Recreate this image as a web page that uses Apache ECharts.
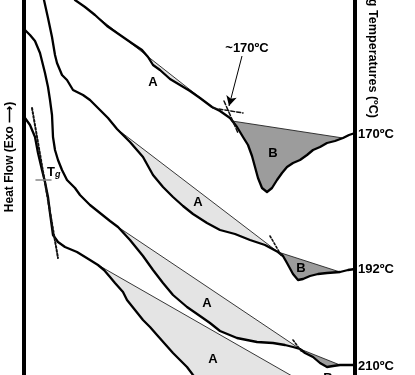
<!DOCTYPE html>
<html>
<head>
<meta charset="utf-8">
<script src="https://cdn.jsdelivr.net/npm/echarts@6/dist/echarts.min.js"></script>
<style>html,body{margin:0;padding:0;background:#fff;}#c{width:415px;height:375px;}</style>
</head>
<body>
<div id="c"></div>
<script>
// Curves: [temperature position, heat-flow position]
var curve170 = [[75,0],[85,7],[95,15],[107,26],[120,35],[133,44],[142,50],[148,57],[153,65],[160,70],[170,79],[180,85],[190,91],[200,98],[212,107],[220,111],[230,118],[237,127],[243,137],[248,145],[252,156],[255,167],[258,178],[262,188],[267,192],[272,188],[277,180],[282,173],[287,167],[293,163],[300,160],[307,155],[313,150],[320,147],[327,143],[335,141],[343,138],[349,135],[355,133]];
var curve192 = [[44,0],[48,18],[52,37],[55,55],[57,63],[62,75],[67,80],[73,90],[83,95],[90,100],[100,110],[108,118],[117,129],[130,142],[143,157],[153,175],[163,187],[173,197],[183,206],[193,214],[207,223],[220,230],[235,234],[250,240],[265,245],[278,252],[283,256],[287,263],[293,274],[298,280],[303,279],[310,276],[318,274],[327,273],[340,272],[348,270],[355,269]];
var curve210 = [[25,30],[30,35],[35,41],[40,53],[45,73],[48,87],[50,100],[52,115],[53,137],[55,150],[58,160],[62,170],[67,180],[75,188],[80,195],[90,205],[100,213],[110,221],[118,227],[130,240],[143,256],[153,270],[163,283],[173,295],[187,307],[200,316],[210,323],[220,331],[237,338],[257,342],[273,343],[285,345],[293,347],[300,349],[305,353],[313,357],[320,363],[327,367],[333,366],[340,365],[347,365],[355,365]];
var curve4 = [[25,118],[30,125],[35,137],[38,153],[42,170],[45,182],[48,197],[50,213],[53,235],[58,242],[65,247],[77,252],[90,260],[98,265],[104,270],[110,277],[115,283],[123,292],[127,300],[135,310],[143,320],[150,327],[157,335],[165,344],[173,353],[180,360],[187,367],[193,375],[198,381]];

// Baselines (straight constructions) for regions A and B
var baseA170 = [[95,15],[212,107]];
var baseB170 = [[232,121],[343,138]];
var baseA192 = [[117,129],[278,252]];
var baseB192 = [[278,252],[340,272]];
var baseA210 = [[118,227],[300,349]];
var baseB210 = [[300,349],[340,365]];
var baseA4 = [[98,265],[320,392]];

// Tangent construction lines
var tan170h = [[213,108],[243,113]];
var tan170v = [[224,101],[238,133]];
var tan192 = [[270,236],[281,255]];
var tan210 = [[293,340],[302,352]];
var tanTg = [[32,108],[58,258]];
var tgTick = [[36,180],[51,180]];
var arrow170 = [[242,56],[229,106]];

var tempLabels = ['170ºC','192ºC','210ºC'];
var tempLabelY = [134,269,366];

function segment(curve, x0, x1) {
  return curve.filter(function (p) { return p[0] >= x0 && p[0] <= x1; });
}
function regionPts(curve, base) {
  var pts = segment(curve, base[0][0], base[1][0]);
  return [base[0]].concat(pts).concat([base[1]]);
}
var region4 = [baseA4[0]].concat(segment(curve4, 98, 400)).concat([baseA4[1]]);

function poly(points, fill) {
  return {
    type: 'custom', coordinateSystem: 'cartesian2d', clip: true, silent: true, z: 1,
    data: [points[0]],
    renderItem: function (params, api) {
      var pts = points.map(function (p) { return api.coord(p); });
      return { type: 'polygon', shape: { points: pts }, style: { fill: fill, stroke: 'none' } };
    }
  };
}
function line(data, width, color, type, z) {
  return {
    type: 'line', data: data, showSymbol: false, symbol: 'none', silent: true, z: z || 3,
    clip: true, animation: false,
    lineStyle: { width: width, color: color, type: type || 'solid', cap: 'round', join: 'round' }
  };
}

var A = '#e4e4e4', B = '#9c9c9c';
var series = [
  poly(regionPts(curve170, baseA170), A),
  poly(regionPts(curve170, baseB170), B),
  poly(regionPts(curve192, baseA192), A),
  poly(regionPts(curve192, baseB192), B),
  poly(regionPts(curve210, baseA210), A),
  poly(regionPts(curve210, baseB210), B),
  poly(region4, A),
  line(baseA170, 0.9, '#222'), line(baseB170, 0.9, '#222'),
  line(baseA192, 0.9, '#222'), line(baseB192, 0.9, '#222'),
  line(baseA210, 0.9, '#222'), line(baseB210, 0.9, '#222'),
  line(baseA4, 0.9, '#222'),
  line(curve170, 2.3, '#000', 'solid', 5),
  line(curve192, 2.3, '#000', 'solid', 5),
  line(curve210, 2.3, '#000', 'solid', 5),
  line(curve4, 2.3, '#000', 'solid', 5),
  line(tan170h, 1.5, '#111', [4, 2], 6),
  line(tan170v, 1.5, '#111', [4, 2], 6),
  line(tan192, 1.6, '#111', [2, 2], 6),
  line(tan210, 1.6, '#111', [2, 2], 6),
  line(tanTg, 2, '#111', [2, 2], 6),
  line(tgTick, 1.5, '#888', 'solid', 6),
  {
    type: 'line', data: [], silent: true, z: 7,
    markLine: {
      silent: true, animation: false, symbol: ['none', 'arrow'], symbolSize: [8, 10],
      label: { show: false },
      lineStyle: { color: '#000', width: 1, type: 'solid' },
      data: [[{ coord: arrow170[0] }, { coord: arrow170[1] }]]
    }
  }
];

var font = '"Liberation Sans", Arial, sans-serif';
function txt(x, y, s, opt) {
  opt = opt || {};
  return {
    type: 'text', x: x, y: y, rotation: opt.rot || 0, z: 100,
    style: {
      text: s, fill: '#000', font: 'bold ' + (opt.size || 13) + 'px ' + font,
      align: opt.align || 'center', verticalAlign: 'middle'
    }
  };
}
var graphics = [
  txt(10, 157, 'Heat Flow (Exo ⟶)', { rot: Math.PI / 2, size: 12 }),
  txt(372, 118, 'Annealing Temperatures (ºC)', { rot: -Math.PI / 2, align: 'right', size: 12.6 }),
  txt(247, 48, '~170ºC', { size: 13 }),
  txt(153, 82, 'A'), txt(198, 202, 'A'), txt(207, 303, 'A'), txt(213, 359, 'A'),
  txt(273, 153, 'B'), txt(301, 268, 'B'), txt(328, 378, 'B'),
  {
    type: 'text', x: 47, y: 172, z: 100,
    style: {
      text: 'T{g|g}', fill: '#000', font: 'bold 13px ' + font, align: 'left', verticalAlign: 'middle',
      rich: { g: { font: 'bold italic 9px ' + font, fill: '#000', padding: [6, 0, 0, 0] } }
    }
  }
];
tempLabels.forEach(function (s, i) { graphics.push(txt(358, tempLabelY[i], s, { align: 'left', size: 13 })); });

var chart = echarts.init(document.getElementById('c'), null, { renderer: 'canvas' });
chart.setOption({
  animation: false,
  grid: { left: 24, right: 60, top: 0, bottom: 0 },
  xAxis: { type: 'value', min: 24, max: 355, show: false },
  yAxis: [
    { type: 'value', min: 0, max: 375, inverse: true, position: 'left',
      axisLine: { show: true, lineStyle: { color: '#000', width: 4 } },
      axisTick: { show: false }, axisLabel: { show: false }, splitLine: { show: false } },
    { type: 'value', min: 0, max: 375, inverse: true, position: 'right',
      axisLine: { show: true, lineStyle: { color: '#000', width: 4 } },
      axisTick: { show: false }, axisLabel: { show: false }, splitLine: { show: false } }
  ],
  series: series,
  graphic: graphics
});
</script>
</body>
</html>
